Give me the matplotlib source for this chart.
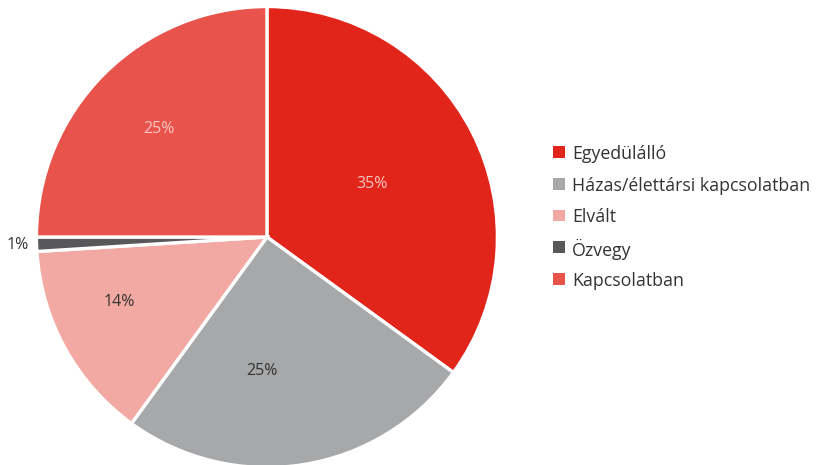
import numpy as np
import matplotlib
matplotlib.use("Agg")
import matplotlib.pyplot as plt
from matplotlib.patches import Rectangle

plt.rcParams['font.family'] = ['Open Sans', 'DejaVu Sans']

categories = ["Egyedülálló", "Házas/élettársi kapcsolatban", "Elvált", "Özvegy", "Kapcsolatban"]
shares = [35, 25, 14, 1, 25]
colors = ["#E1251B", "#A7A8AA", "#F3A9A3", "#58585A", "#E8534B"]
label_colors = ["#F8C4BF", "#333333", "#333333", "#333333", "#F8C4BF"]
# radial position of each percentage label (fraction of radius) and angular nudge in degrees
label_radius = [0.51, 0.58, 0.70, 1.08, 0.66]
label_nudge = [0, -11, -5, 0, 0]

W, H = 821, 465
fig = plt.figure(figsize=(W / 100, H / 100), dpi=100)
ax = fig.add_axes([0.3252 - 0.2808, 0.4903 - 0.4957, 0.5615, 0.9914])

wedges, _ = ax.pie(shares, colors=colors, startangle=90, counterclock=False,
                   wedgeprops=dict(edgecolor="white", linewidth=2.4))
ax.set_xlim(-1, 1)
ax.set_ylim(-1, 1)
ax.set_aspect("equal")
ax.axis("off")

for w, v, lc, r, nd in zip(wedges, shares, label_colors, label_radius, label_nudge):
    mid = np.deg2rad((w.theta1 + w.theta2) / 2 + nd)
    ax.text(r * np.cos(mid), r * np.sin(mid), f"{v}%", ha="center", va="center",
            fontsize=11.5, color=lc, zorder=10)

# legend: evenly spaced rows of square swatches with labels
x_sw, sw, x_txt, y0, dy = 553, 12, 572, 152, 31.75
for i, (c, lab) in enumerate(zip(colors, categories)):
    yc = y0 + i * dy
    fig.add_artist(Rectangle(((x_sw) / W, 1 - (yc + sw / 2) / H), sw / W, sw / H,
                             transform=fig.transFigure, facecolor=c, edgecolor="none"))
    fig.text(x_txt / W, 1 - yc / H, lab, ha="left", va="center_baseline",
             fontsize=12.8, color="#333333")

fig.savefig("out.png", dpi=100)
